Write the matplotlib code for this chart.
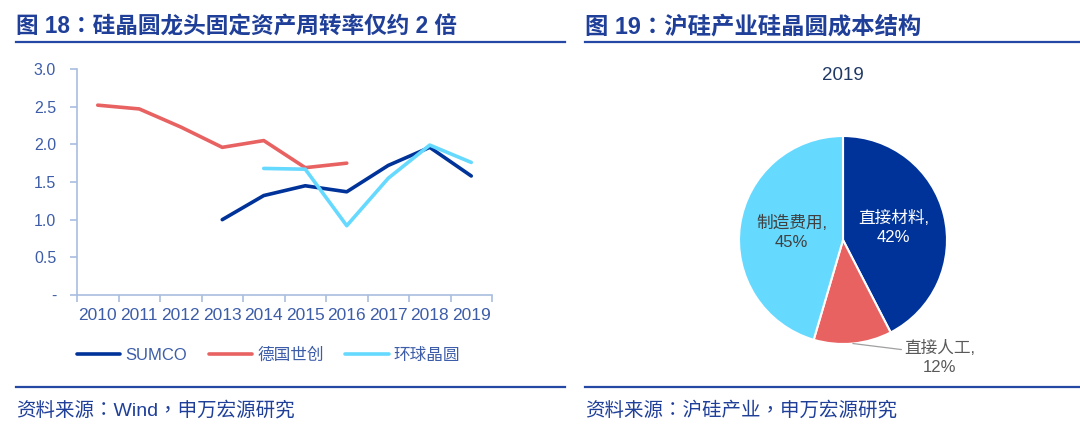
import matplotlib
matplotlib.use("Agg")
import matplotlib.pyplot as plt
from matplotlib.lines import Line2D
import numpy as np

plt.rcParams['font.family'] = ['Liberation Sans', 'Noto Sans CJK SC', 'DejaVu Sans']
head_fonts = ['Liberation Sans', 'Noto Sans CJK TC', 'DejaVu Sans']

# ---- data ----
years = ['2010', '2011', '2012', '2013', '2014', '2015', '2016', '2017', '2018', '2019']
sumco = [None, None, None, 1.00, 1.32, 1.45, 1.37, 1.72, 1.96, 1.58]
siltronic = [2.52, 2.47, 2.23, 1.96, 2.05, 1.69, 1.75, None, None, None]
gwc = [None, None, None, None, 1.68, 1.67, 0.92, 1.55, 1.99, 1.76]
series_names = ['SUMCO', '德国世创', '环球晶圆']

yticks = [0, 0.5, 1.0, 1.5, 2.0, 2.5, 3.0]
ytick_labels = ['-', '0.5', '1.0', '1.5', '2.0', '2.5', '3.0']

cost_labels = ['直接材料', '直接人工', '制造费用']
cost_share = [42, 12, 45]

# ---- colours ----
navy = '#003399'
red = '#E86262'
cyan = '#66D9FF'
head_blue = '#1F3F99'
tick_blue = '#3D5DA8'
axis_col = '#A9BEE0'

W, H = 1080, 440
fig = plt.figure(figsize=(W / 100, H / 100), dpi=100)


def fx(px):
    return px / W


def fy(py):
    return 1 - py / H


# headers, rules, sources
fig.text(fx(16), fy(27), '图 18：硅晶圆龙头固定资产周转率仅约 2 倍', fontsize=16.3,
         fontweight='bold', color=head_blue, va='center', ha='left', family=head_fonts)
fig.text(fx(585), fy(27), '图 19：沪硅产业硅晶圆成本结构', fontsize=16.8,
         fontweight='bold', color=head_blue, va='center', ha='left', family=head_fonts)
for x0, x1 in [(16, 565), (585, 1080)]:
    for yy in (42, 387):
        fig.add_artist(Line2D([fx(x0), fx(x1)], [fy(yy), fy(yy)], color='#2448A4',
                              lw=1.6, transform=fig.transFigure))
fig.text(fx(16), fy(410), '资料来源：Wind，申万宏源研究', fontsize=14,
         color=head_blue, va='center', ha='left', family=head_fonts)
fig.text(fx(585), fy(410), '资料来源：沪硅产业，申万宏源研究', fontsize=14,
         color=head_blue, va='center', ha='left', family=head_fonts)

# ---- line chart ----
ax = fig.add_axes([fx(77), fy(295), fx(492) - fx(77), fy(69) - fy(295)])
x = np.arange(len(years))


def to_arr(v):
    return np.array([np.nan if a is None else a for a in v], dtype=float)


for vals, col, name in [(sumco, navy, series_names[0]),
                        (siltronic, red, series_names[1]),
                        (gwc, cyan, series_names[2])]:
    ax.plot(x, to_arr(vals), color=col, lw=2.6, label=name, solid_capstyle='round')

ax.set_xlim(-0.5, len(years) - 0.5)
ax.set_ylim(0, 3.0)
ax.set_yticks(yticks)
ax.set_yticklabels(ytick_labels)
ax.set_xticks(x)
ax.set_xticklabels(years)
ax.set_xticks(np.arange(-0.5, len(years)), minor=True)
ax.tick_params(axis='x', which='major', length=0, pad=9, labelsize=12.5, labelcolor=tick_blue)
ax.tick_params(axis='x', which='minor', length=5, color=axis_col, width=1.2)
ax.tick_params(axis='y', length=5, color=axis_col, width=1.2, labelsize=11.5,
               labelcolor=tick_blue, pad=10)
for s in ('top', 'right'):
    ax.spines[s].set_visible(False)
for s in ('left', 'bottom'):
    ax.spines[s].set_color(axis_col)
    ax.spines[s].set_linewidth(1.2)

ax.legend(loc='center left', bbox_to_anchor=(fx(77), fy(355)),
          bbox_transform=fig.transFigure, ncol=3, frameon=False, fontsize=12,
          handlelength=2.6, handletextpad=0.3, columnspacing=1.3,
          borderpad=0, borderaxespad=0, labelcolor=tick_blue)

# ---- pie chart ----
cx, cy, r = 843, 240, 104
pax = fig.add_axes([fx(cx - r), fy(cy + r), fx(2 * r), fy(cy - r) - fy(cy + r)])
wedges, _ = pax.pie(cost_share, colors=[navy, red, cyan], startangle=90,
                    counterclock=False, radius=1,
                    wedgeprops=dict(edgecolor='white', linewidth=1.5))
pax.set_xlim(-1, 1)
pax.set_ylim(-1, 1)
pax.set_aspect('equal')
pax.axis('off')
fig.text(fx(cx), fy(75), '2019', fontsize=13.5, color='#1F3864', ha='center', va='center')

label_cols = ['white', '#404040', '#404040']
for i, w in enumerate(wedges):
    mid = np.deg2rad((w.theta1 + w.theta2) / 2)
    txt = '%s,\n%d%%' % (cost_labels[i], cost_share[i])
    if i == 1:
        ex, ey = np.cos(mid), np.sin(mid)
        pax.annotate(txt, xy=(ex, ey), xytext=(0.93, -1.13), ha='center', va='center',
                     fontsize=12, color='#595959', linespacing=1.3,
                     arrowprops=dict(arrowstyle='-', color='#A0A0A0', lw=0.9,
                                     relpos=(0, 0.72), shrinkA=0, shrinkB=0))
    else:
        pax.text(0.5 * np.cos(mid), 0.5 * np.sin(mid), txt, ha='center', va='center',
                 fontsize=12, color=label_cols[i], linespacing=1.3)

fig.savefig('out.png', dpi=100)
